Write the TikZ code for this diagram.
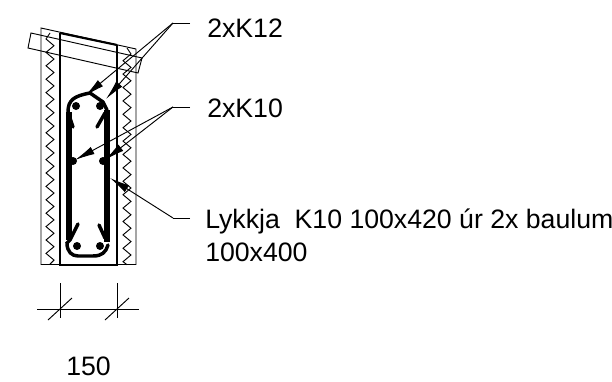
\documentclass[tikz,border=0pt]{standalone}
\usepackage{fontspec}
\setmainfont{Liberation Sans}
\usetikzlibrary{arrows.meta}
\tikzset{
    thinline/.style={line width=.7pt},
    wallline/.style={line width=1.6pt},
    rebar/.style={line width=4pt},
    stirrup/.style={line width=2.6pt,line cap=round},
    leader/.style={line width=.7pt,-{Latex[length=15pt,width=6pt]}},
    label/.style={anchor=west,inner sep=0pt,font=\fontsize{20}{25}\selectfont},
}
\begin{document}
\begin{tikzpicture}[x=.75pt,y=-.75pt]
        \useasboundingbox (0,0) rectangle (612,382);
        % wall
        \draw[thinline] (41,264.5) -- (41,28) -- (136,49) -- (136,264.5) -- cycle;
        \draw[thinline] (31,33) -- (142,58) -- (138,73) -- (28,48) -- cycle;
        \draw[wallline] (60,33) -- (60,265) -- (117,265) -- (117,45);
        \draw[wallline] (60,33) -- (117,45);
        % insulation
        \draw[thinline] (50,33) -- (46,39) \foreach \i in {1,...,16} { -- ++(8,6.7) -- ++(-8,6.7)} -- ++(8,6.7) -- ++(-4,4);
        \draw[thinline] (127,48) -- (131,54) \foreach \i in {1,...,15} { -- ++(-8,6.7) -- ++(8,6.7)} -- ++(-8,6.7) -- ++(4,3);
        % loop
        \draw[rebar] (69,112) -- (69,240);
        \draw[rebar] (107,110) -- (107,242);
        \draw[stirrup] (73,127) -- (68,112) .. controls (68,100) and (74,96) .. (90,93) -- (103,102) -- (107,110);
        \draw[stirrup] (97,127) -- (105,113);
        \draw[stirrup] (78,224) -- (70,240) -- (67,243) .. controls (67,252) and (72,256) .. (78,256) -- (93,256) .. controls (102,256) and (106,252) .. (108,245);
        \draw[stirrup] (99,225) -- (105,238);
        % bars
        \foreach \x/\y/\name in {76/106/a,100/106/b,73/161/c,103/161/d,77/246/e,100/246/f}
            \fill (\x,\y) circle (4) coordinate (bar\name);
        % leaders
        \coordinate (k12end) at (190,23);
        \coordinate (k12elbow) at (173,23);
        \coordinate (k12left) at (85,96);
        \coordinate (k12right) at (106,99);
        \coordinate (k10end) at (190,107);
        \coordinate (k10elbow) at (173,107);
        \coordinate (k10left) at (75,160);
        \coordinate (k10right) at (105,160);
        \coordinate (loopend) at (190,218);
        \coordinate (loopelbow) at (173,218);
        \coordinate (looptip) at (110,178);
        \draw[thinline] (k12end) -- (k12elbow);
        \draw[leader] (k12elbow) -- (k12left);
        \draw[leader] (k12elbow) -- (k12right);
        \draw[thinline] (k10end) -- (k10elbow);
        \draw[leader] (k10elbow) -- (k10left);
        \draw[leader] (k10elbow) -- (k10right);
        \draw[thinline] (loopend) -- (loopelbow);
        \draw[leader] (loopelbow) -- (looptip);
        % dimension
        \coordinate (dimleft) at (37,309);
        \coordinate (dimright) at (139,309);
        \draw[thinline] (dimleft) -- (dimright);
        \foreach \x in {60,117} {
            \draw[thinline] (\x,283) -- (\x,318);
            \draw[thinline] (\x-12,320) -- (\x+12,298);
        }
        % labels
        \node[label] (k12) at (207,28) {2xK12};
        \node[label] (k10) at (207,108) {2xK10};
        \node[label,align=left] (loop) at (205,235) {Lykkja\ \ K10 100x420 úr 2x baulum\\100x400};
        \node[label] (dim) at (66,366) {150};
\end{tikzpicture}
\end{document}
